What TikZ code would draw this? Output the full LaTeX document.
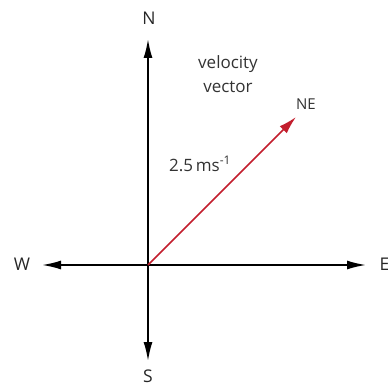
\documentclass[tikz,border=0pt]{standalone}
\usepackage{fontspec}
\setmainfont{Open Sans}
\usepackage{tikz}
\usetikzlibrary{
    arrows.meta,
    calc
}

\definecolor{vecred}{RGB}{195,30,45}

\begin{document}
\begin{tikzpicture}[x=1pt,y=-1pt,
    axis/.style={line width=1.8pt,-{Latex[length=19pt,width=9pt]}},
    compass/.style={font=\fontsize{17.5}{20}\selectfont,text=black!85},
    lbl/.style={font=\fontsize{17}{24}\selectfont,text=black!80,align=center}]

\useasboundingbox (0,0) rectangle (387,387);

% Origin and axis ends
\coordinate (O) at (148,265);
\coordinate (tipN) at (148,39);
\coordinate (tipS) at (148,361);
\coordinate (tipW) at (42,265);
\coordinate (tipE) at (366,265);
\coordinate (tipV) at (296,117);

% Compass letters
\node[compass] (N) at (149,18) {N};
\node[compass] (S) at (148,376) {S};
\node[compass] (W) at (22,264) {W};
\node[compass,anchor=west] (E) at (376,264) {E};

% Vertical axis
\draw[axis] (O) -- (tipN);
\draw[axis] (O) -- (tipS);

% Horizontal axis
\draw[axis] (O) -- (tipW);
\draw[axis] (O) -- (tipE);

% Velocity vector
\draw[axis,vecred,line width=1.6pt,-{Latex[length=18pt,width=10pt]}] (O) -- (tipV);
\node[lbl,font=\fontsize{15}{18}\selectfont] (NE) at (306,104) {NE};
\node[lbl] (title) at (228,74) {velocity\\vector};
\node[lbl] (speed) at (200,164) {2.5\,ms\textsuperscript{-1}};

\end{tikzpicture}
\end{document}
